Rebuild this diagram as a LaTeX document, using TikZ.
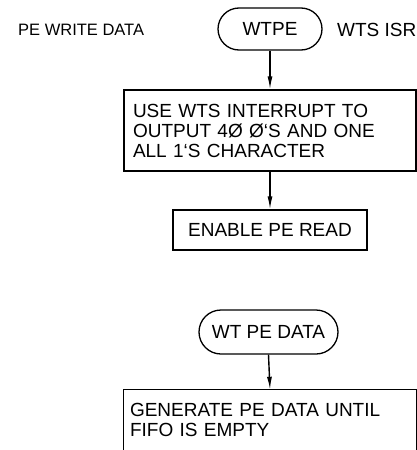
\documentclass[tikz,border=0pt]{standalone}
\usepackage{fontspec}
\setmainfont{Liberation Sans}
\usetikzlibrary{shapes.misc,arrows.meta}
\begin{document}
\begin{tikzpicture}[x=1pt,y=-1pt,
  every node/.style={font=\fontsize{19}{20}\selectfont, inner sep=0pt},
  term/.style={draw, line width=1.3pt, rounded rectangle, minimum height=42pt},
  procbox/.style={draw, line width=1.2pt, rectangle, align=left},
  lbl/.style={anchor=west},
  flow/.style={line width=1.4pt, -{Latex[length=13pt,width=5pt]}}
]
\useasboundingbox (0,0) rectangle (417,450);
\node[lbl, font=\fontsize{16.5}{18}\selectfont] (title) at (18,30) {PE WRITE DATA};
\node[term, minimum width=104pt] (wtpe) at (270,29) {WTPE};
\node[lbl] (isr) at (337,30) {WTS ISR};
\node[procbox, minimum width=292pt, minimum height=81pt, text width=274pt, inner xsep=9pt] (b1) at (270,130.5)
  {USE WTS INTERRUPT TO\\OUTPUT 4Ø Ø`S AND ONE\\ALL 1`S CHARACTER};
\node[procbox, minimum width=194pt, minimum height=40pt] (b2) at (270,230) {ENABLE PE READ};
\node[term, minimum width=139pt, minimum height=44pt] (wtpd) at (268.5,332) {WT PE DATA};
\node[align=left, minimum width=292pt, minimum height=60pt, text width=280pt, inner xsep=6pt] (b3) at (270,420)
  {GENERATE PE DATA UNTIL\\FIFO IS EMPTY};
\draw[line width=1.2pt] (b3.south west) -- (b3.north west) -- (b3.north east) -- (b3.south east);
\draw[flow] (wtpe.south) -- (b1.north);
\draw[flow] (b1.south) -- (b2.north);
\draw[flow] (wtpd.south) -- (b3.north);
\end{tikzpicture}
\end{document}
